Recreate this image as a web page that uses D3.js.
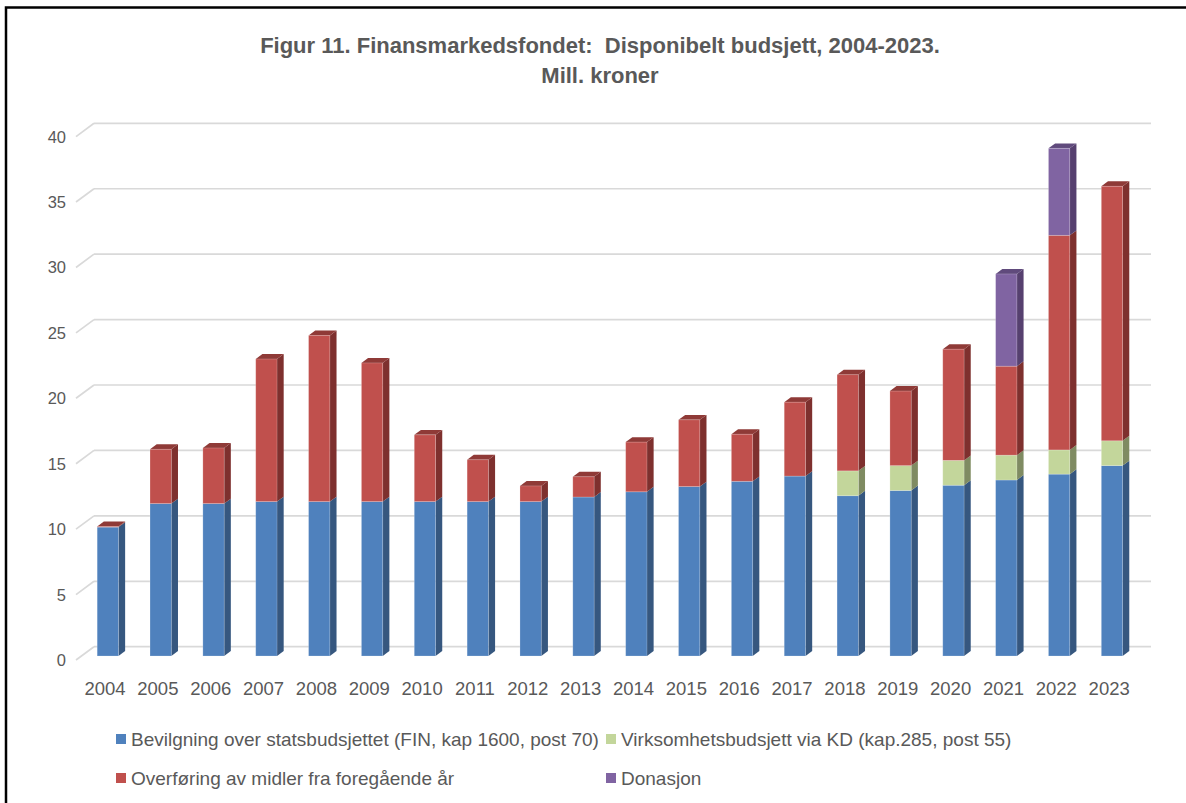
<!DOCTYPE html>
<html>
<head>
<meta charset="utf-8">
<script src="https://cdn.jsdelivr.net/npm/d3@7"></script>
<style>
  body { margin: 0; background: #fff; }
  svg { display: block; font-family: "Liberation Sans", Arial, sans-serif; }
</style>
</head>
<body>
<svg id="grafico"></svg>
<script>
// Data (mill. kroner)
const years = ['2004', '2005', '2006', '2007', '2008', '2009', '2010', '2011', '2012', '2013',
               '2014', '2015', '2016', '2017', '2018', '2019', '2020', '2021', '2022', '2023'];
const bevilgning = [9.85, 11.65, 11.65, 11.8, 11.8, 11.8, 11.8, 11.8, 11.8, 12.15,
                    12.55, 12.95, 13.35, 13.75, 12.25, 12.65, 13.05, 13.45, 13.9, 14.55];
const virksomhet = [0, 0, 0, 0, 0, 0, 0, 0, 0, 0,
                    0, 0, 0, 0, 1.9, 1.9, 1.9, 1.9, 1.85, 1.9];
const overforing = [0.05, 4.15, 4.25, 10.9, 12.7, 10.6, 5.1, 3.2, 1.2, 1.55,
                    3.8, 5.1, 3.6, 5.65, 7.35, 5.7, 8.5, 6.8, 16.4, 19.45];
const donasjon = [0, 0, 0, 0, 0, 0, 0, 0, 0, 0,
                  0, 0, 0, 0, 0, 0, 0, 7.05, 6.65, 0];
const yTicks = [0, 5, 10, 15, 20, 25, 30, 35, 40];
const seriesNames = ['Bevilgning over statsbudsjettet (FIN, kap 1600, post 70)',
                     'Virksomhetsbudsjett via KD (kap.285, post 55)',
                     'Overføring av midler fra foregående år',
                     'Donasjon'];
const titleLines = ['Figur 11. Finansmarkedsfondet:  Disponibelt budsjett, 2004-2023.', 'Mill. kroner'];

function drawChart(svgId, width, height) {

    const svg = d3.select('#' + svgId).attr('width', width).attr('height', height);

    // colours per series: front, side, top
    const colors = [
        { front: '#4F81BD', side: '#36577F', top: '#3F6797' },
        { front: '#C3D69B', side: '#7F8B62', top: '#9AAA77' },
        { front: '#C0504D', side: '#7E302E', top: '#8F3A37' },
        { front: '#8064A2', side: '#56406F', top: '#604A7C' }
    ];

    // 3D geometry: front plane of the floor and depth offset to the back wall
    const left = 76, right = 1133;
    const DX = 18, DY = 13.3;
    const zFront = 0.30, zBack = 0.67;

    const x = d3.scaleBand().domain(years).range([left, right]);
    const y = d3.scaleLinear().domain([0, 40]).range([660, 660 - 40 * 13.085]);
    const barW = 21.3;

    // outer frame (top and left edge visible)
    svg.append('path')
        .attr('d', 'M6,803 L6,7.5 L1186,7.5')
        .attr('fill', 'none')
        .attr('stroke', '#000')
        .attr('stroke-width', 2.5);

    // title
    svg.append('g')
        .selectAll('text')
        .data(titleLines)
        .join('text')
        .attr('x', 600)
        .attr('y', (d, i) => 53 + i * 30)
        .attr('text-anchor', 'middle')
        .attr('font-size', 22)
        .attr('font-weight', 'bold')
        .attr('fill', '#595959')
        .style('white-space', 'pre')
        .text(d => d);

    // gridlines: back wall and side wall
    const grid = svg.append('g')
        .attr('stroke', '#D9D9D9')
        .attr('stroke-width', 1.7)
        .attr('fill', 'none');

    grid.selectAll('.back')
        .data(yTicks)
        .join('line')
        .attr('x1', left + DX)
        .attr('x2', right + DX)
        .attr('y1', d => y(d) - DY)
        .attr('y2', d => y(d) - DY);

    grid.selectAll('.side')
        .data(yTicks)
        .join('line')
        .attr('x1', left)
        .attr('x2', left + DX)
        .attr('y1', d => y(d))
        .attr('y2', d => y(d) - DY);

    // y axis labels
    svg.append('g')
        .selectAll('text')
        .data(yTicks)
        .join('text')
        .attr('x', 66)
        .attr('y', d => y(d) + 6)
        .attr('text-anchor', 'end')
        .attr('font-size', 16.5)
        .attr('fill', '#595959')
        .text(d => d);

    // x axis labels
    svg.append('g')
        .selectAll('text')
        .data(years)
        .join('text')
        .attr('x', d => x(d) + x.bandwidth() / 2 + 2.6)
        .attr('y', 695)
        .attr('text-anchor', 'middle')
        .attr('font-size', 18.5)
        .attr('fill', '#595959')
        .text(d => d);

    // stacked segments
    const series = [bevilgning, virksomhet, overforing, donasjon];
    const stacks = years.map((yr, i) => {
        let base = 0;
        const segs = [];
        series.forEach((s, k) => {
            if (s[i] > 0) {
                segs.push({ year: yr, k: k, y0: base, y1: base + s[i] });
                base += s[i];
            }
        });
        return segs;
    });

    const ox = zFront * DX, oy = zFront * DY;
    const ddx = (zBack - zFront) * DX, ddy = (zBack - zFront) * DY;

    const bars = svg.append('g');
    stacks.forEach(segs => {
        const g = bars.append('g');
        segs.forEach((s, j) => {
            const x0 = x(s.year) + x.bandwidth() / 2 - barW / 2 + ox;
            const x1 = x0 + barW;
            const yb = y(s.y0) - oy;
            const yt = y(s.y1) - oy;
            const c = colors[s.k];

            g.append('path')
                .attr('d', `M${x1},${yb} L${x1 + ddx},${yb - ddy} L${x1 + ddx},${yt - ddy} L${x1},${yt} Z`)
                .attr('fill', c.side);

            if (j === segs.length - 1) {
                g.append('path')
                    .attr('d', `M${x0},${yt} L${x0 + ddx},${yt - ddy} L${x1 + ddx},${yt - ddy} L${x1},${yt} Z`)
                    .attr('fill', c.top);
            }

            g.append('rect')
                .attr('x', x0)
                .attr('y', yt)
                .attr('width', barW)
                .attr('height', yb - yt)
                .attr('fill', c.front)
                .attr('stroke', '#ffffff')
                .attr('stroke-opacity', 0.25)
                .attr('stroke-width', 0.8);
        });
    });

    // legend
    const legendPos = [
        { x: 116, y: 734 },
        { x: 606, y: 734 },
        { x: 116, y: 773 },
        { x: 606, y: 773 }
    ];
    const legend = svg.append('g')
        .selectAll('g')
        .data(seriesNames)
        .join('g')
        .attr('transform', (d, i) => `translate(${legendPos[i].x},${legendPos[i].y})`);

    legend.append('rect')
        .attr('width', 10)
        .attr('height', 10)
        .attr('fill', (d, i) => colors[i].front);

    legend.append('text')
        .attr('x', 15)
        .attr('y', 12)
        .attr('font-size', 19)
        .attr('fill', '#595959')
        .text(d => d);
}

drawChart('grafico', 1186, 803);
</script>
</body>
</html>
